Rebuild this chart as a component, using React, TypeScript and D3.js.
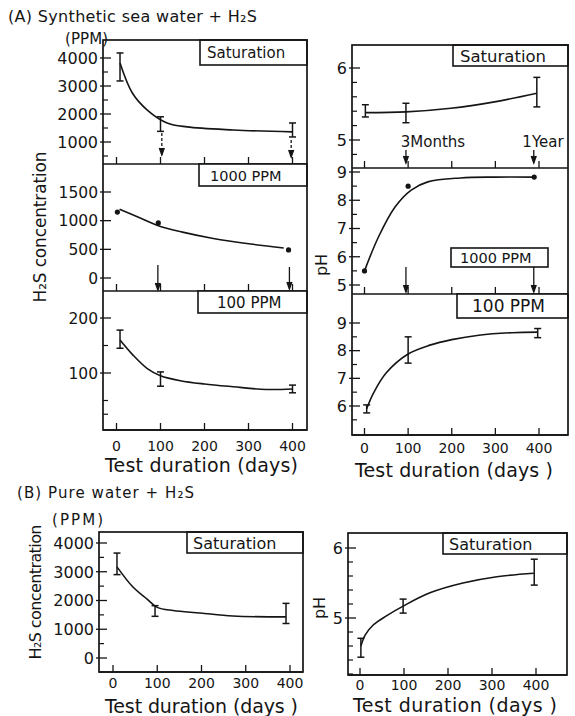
import React from 'react';
import * as d3 from 'd3';

const FONT = "'DejaVu Sans', Verdana, sans-serif";
const INK = '#151515';

type Pt = [number, number];
type Bar = [number, number, number]; // day, low, high

const dayTicks = [0, 100, 200, 300, 400];

// (A) synthetic sea water + H2S -- H2S concentration (ppm)
const aConcSatCurve: Pt[] = [[8, 3820], [36, 2750], [70, 2140], [115, 1680], [160, 1540], [266, 1430], [400, 1360]];
const aConcSatBars: Bar[] = [[8, 3180, 4180], [100, 1380, 1900], [400, 1180, 1680]];
const aConc1000Curve: Pt[] = [[7, 1200], [50, 1060], [95, 910], [150, 800], [220, 690], [305, 593], [380, 524]];
const aConc1000Dots: Pt[] = [[2, 1150], [95, 960], [391, 490]];
const aConc100Curve: Pt[] = [[8, 160], [37, 133], [70, 108], [100, 95], [145, 86], [200, 80], [265, 75], [340, 70], [400, 71]];
const aConc100Bars: Bar[] = [[8, 145, 178], [100, 76, 102], [400, 64, 78]];

// (A) pH
const aPhSatCurve: Pt[] = [[2, 5.38], [95, 5.39], [198, 5.44], [298, 5.53], [395, 5.65]];
const aPhSatBars: Bar[] = [[2, 5.32, 5.49], [95, 5.24, 5.51], [395, 5.46, 5.87]];
const aPh1000Curve: Pt[] = [[0, 5.5], [32, 6.7], [70, 7.76], [107, 8.36], [145, 8.65], [220, 8.79], [298, 8.82], [389, 8.82]];
const aPh1000Dots: Pt[] = [[0, 5.5], [100, 8.5], [389, 8.82]];
const aPh100Curve: Pt[] = [[5, 5.9], [20, 6.45], [50, 7.2], [100, 7.88], [150, 8.2], [200, 8.4], [262, 8.56], [338, 8.65], [397, 8.67]];
const aPh100Bars: Bar[] = [[5, 5.75, 6.04], [100, 7.55, 8.5], [397, 8.47, 8.8]];

// (B) pure water + H2S
const bConcCurve: Pt[] = [[9, 3170], [45, 2470], [77, 2050], [100, 1760], [136, 1650], [197, 1565], [271, 1460], [391, 1430]];
const bConcBars: Bar[] = [[9, 2900, 3650], [95, 1450, 1820], [391, 1200, 1900]];
const bPhCurve: Pt[] = [[2, 4.6], [12, 4.76], [30, 4.9], [60, 5.03], [98, 5.17], [159, 5.36], [234, 5.5], [311, 5.59], [395, 5.64]];
const bPhBars: Bar[] = [[2, 4.44, 4.71], [98, 5.07, 5.27], [396, 5.47, 5.84]];

type Box = { x: number; y: number; w: number; h: number; label: string; size: number; tx: number };
type Arrow = { day: number; tip: number; len: number; dashed?: boolean };

interface SubProps {
  x0: number; x1: number; y1: number;
  xs: d3.ScaleLinear<number, number>;
  yDom: [number, number]; yRng: [number, number];
  major: number[]; minor: number[]; tickSize: number;
  curve: Pt[]; bars?: Bar[]; dots?: Pt[];
  arrows?: Arrow[]; box: Box;
}

function Sub(p: SubProps) {
  const ys = d3.scaleLinear().domain(p.yDom).range(p.yRng);
  const line = d3.line<Pt>().x(d => p.xs(d[0])).y(d => ys(d[1])).curve(d3.curveCatmullRom.alpha(0.5));
  return (
    <g stroke={INK} fill="none">
      <line x1={p.x0} x2={p.x1} y1={p.y1} y2={p.y1} strokeWidth={1.7} />
      {dayTicks.map(d => (
        <line key={d} x1={p.xs(d)} x2={p.xs(d)} y1={p.y1} y2={p.y1 - 7} strokeWidth={1.3} />
      ))}
      {p.major.map(v => (
        <g key={v}>
          <line x1={p.x0 - 3} x2={p.x0 + 8} y1={ys(v)} y2={ys(v)} strokeWidth={1.3} />
          <text x={p.x0 - 5} y={ys(v)} dy="0.36em" textAnchor="end" fontSize={p.tickSize}
            fill={INK} stroke="none">{v}</text>
        </g>
      ))}
      {p.minor.map(v => (
        <line key={v} x1={p.x0} x2={p.x0 + 5} y1={ys(v)} y2={ys(v)} strokeWidth={1.2} />
      ))}
      <path d={line(p.curve) || ''} strokeWidth={1.6} />
      {(p.bars || []).map((b, i) => (
        <g key={i} strokeWidth={1.5}>
          <line x1={p.xs(b[0])} x2={p.xs(b[0])} y1={ys(b[1])} y2={ys(b[2])} />
          <line x1={p.xs(b[0]) - 3.5} x2={p.xs(b[0]) + 3.5} y1={ys(b[1])} y2={ys(b[1])} />
          <line x1={p.xs(b[0]) - 3.5} x2={p.xs(b[0]) + 3.5} y1={ys(b[2])} y2={ys(b[2])} />
        </g>
      ))}
      {(p.dots || []).map((d, i) => (
        <circle key={i} cx={p.xs(d[0])} cy={ys(d[1])} r={2.6} fill={INK} stroke="none" />
      ))}
      {(p.arrows || []).map((a, i) => {
        const x = p.xs(a.day);
        return (
          <g key={i} strokeWidth={1.3}>
            <line x1={x} x2={x} y1={a.tip - a.len} y2={a.tip} strokeDasharray={a.dashed ? '3 2' : undefined} />
            <path d={`M${x - 2.5},${a.tip - 7}L${x},${a.tip}L${x + 2.5},${a.tip - 7}`} fill={INK} />
          </g>
        );
      })}
      <rect x={p.box.x} y={p.box.y} width={p.box.w} height={p.box.h} fill="white" strokeWidth={1.6} />
      <text x={p.box.x + p.box.tx} y={p.box.y + p.box.h / 2} dy="0.38em" fontSize={p.box.size}
        fill={INK} stroke="none">{p.box.label}</text>
    </g>
  );
}

function XLabels({ xs, y, size }: { xs: d3.ScaleLinear<number, number>; y: number; size: number }) {
  return (
    <g fontSize={size} fill={INK} textAnchor="middle">
      {dayTicks.map(d => <text key={d} x={xs(d)} y={y}>{d}</text>)}
    </g>
  );
}

export default function App() {
  // scales for day axes
  const xAL = d3.scaleLinear().domain([0, 400]).range([116.5, 292.5]);
  const xAR = d3.scaleLinear().domain([0, 400]).range([364.5, 539]);
  const xBL = d3.scaleLinear().domain([0, 400]).range([113, 290]);
  const xBR = d3.scaleLinear().domain([0, 400]).range([360, 536]);

  return (
    <svg width={575} height={716} viewBox="0 0 575 716"
      style={{ display: 'block', position: 'absolute', left: 0, top: 0, background: 'white' }}
      fontFamily={FONT}>
      <rect x={0} y={0} width={575} height={716} fill="white" />

      {/* ---- (A) ---- */}
      <text x={8} y={22} fontSize={16} textLength={249} lengthAdjust="spacing" fill={INK}>(A) Synthetic sea water + H₂S</text>
      <text x={65} y={44} fontSize={15} textLength={43} fill={INK}>(PPM)</text>
      <text transform="translate(46,227) rotate(-90)" textAnchor="middle" fontSize={17} textLength={151}
        lengthAdjust="spacing" fill={INK}>H₂S concentration</text>

      <Sub x0={103} x1={307} y1={164} xs={xAL} yDom={[1000, 4000]} yRng={[142, 58]}
        major={[1000, 2000, 3000, 4000]} minor={[500, 1500, 2500, 3500]} tickSize={16}
        curve={aConcSatCurve} bars={aConcSatBars}
        arrows={[{ day: 103, tip: 155, len: 22, dashed: true }, { day: 397, tip: 157, len: 17, dashed: true }]}
        box={{ x: 200, y: 40, w: 107, h: 25, label: 'Saturation', size: 15, tx: 7 }} />
      <Sub x0={103} x1={307} y1={291} xs={xAL} yDom={[0, 1500]} yRng={[278, 192]}
        major={[0, 500, 1000, 1500]} minor={[]} tickSize={15.5}
        curve={aConc1000Curve} dots={aConc1000Dots}
        arrows={[{ day: 94, tip: 290, len: 25 }, { day: 393, tip: 289, len: 22 }]}
        box={{ x: 199, y: 164, w: 108, h: 22, label: '1000 PPM', size: 14.5, tx: 11 }} />
      <Sub x0={103} x1={307} y1={430} xs={xAL} yDom={[100, 200]} yRng={[373, 318]}
        major={[100, 200]} minor={[25, 50, 150]} tickSize={15.5}
        curve={aConc100Curve} bars={aConc100Bars}
        box={{ x: 198, y: 291, w: 109, h: 22, label: '100 PPM', size: 15, tx: 19 }} />
      <rect x={103} y={40} width={204} height={390} fill="none" stroke={INK} strokeWidth={1.7} />
      <XLabels xs={xAL} y={451} size={14} />
      <text x={105} y={472} fontSize={19} textLength={193} fill={INK}>Test duration (days)</text>

      <text transform="translate(327,265) rotate(-90)" textAnchor="middle" fontSize={16} fill={INK}>pH</text>
      <Sub x0={352} x1={568} y1={168} xs={xAR} yDom={[5, 6]} yRng={[140, 68]}
        major={[5, 6]} minor={[4.8, 5.2, 5.4, 5.6, 5.8]} tickSize={16}
        curve={aPhSatCurve} bars={aPhSatBars}
        arrows={[{ day: 95, tip: 163, len: 13 }, { day: 388, tip: 163, len: 13 }]}
        box={{ x: 453, y: 45, w: 115, h: 21, label: 'Saturation', size: 16.5, tx: 7 }} />
      <Sub x0={352} x1={568} y1={294} xs={xAR} yDom={[5, 9]} yRng={[285, 172]}
        major={[5, 6, 7, 8, 9]} minor={[5.5, 6.5, 7.5, 8.5]} tickSize={16}
        curve={aPh1000Curve} dots={aPh1000Dots}
        arrows={[{ day: 95, tip: 292, len: 25 }, { day: 388, tip: 292, len: 25 }]}
        box={{ x: 451, y: 248, w: 97, h: 19, label: '1000 PPM', size: 14.5, tx: 9 }} />
      <Sub x0={352} x1={568} y1={435} xs={xAR} yDom={[6, 9]} yRng={[406, 323]}
        major={[6, 7, 8, 9]} minor={[5.5, 6.5, 7.5, 8.5]} tickSize={16}
        curve={aPh100Curve} bars={aPh100Bars}
        box={{ x: 457, y: 294, w: 111, h: 24, label: '100 PPM', size: 17, tx: 15 }} />
      <rect x={352} y={45} width={216} height={390} fill="none" stroke={INK} strokeWidth={1.7} />
      <text x={433} y={147} fontSize={15} textAnchor="middle" fill={INK}>3Months</text>
      <text x={543} y={147} fontSize={15} textAnchor="middle" fill={INK}>1Year</text>
      <XLabels xs={xAR} y={453} size={14} />
      <text x={355} y={477} fontSize={19} textLength={198} fill={INK}>Test duration (days )</text>

      {/* ---- (B) ---- */}
      <text x={17} y={498} fontSize={15} textLength={177} lengthAdjust="spacing" fill={INK}>(B) Pure water + H₂S</text>
      <text x={52} y={525} fontSize={15} textLength={51} fill={INK}>(PPM)</text>
      <text transform="translate(41,592) rotate(-90)" textAnchor="middle" fontSize={16} textLength={135}
        lengthAdjust="spacing" fill={INK}>H₂S concentration</text>
      <Sub x0={99} x1={303} y1={672} xs={xBL} yDom={[0, 4000]} yRng={[658, 543]}
        major={[0, 1000, 2000, 3000, 4000]} minor={[500, 1500, 2500, 3500]} tickSize={16}
        curve={bConcCurve} bars={bConcBars}
        box={{ x: 187, y: 532, w: 116, h: 21, label: 'Saturation', size: 16, tx: 6 }} />
      <rect x={99} y={532} width={204} height={140} fill="none" stroke={INK} strokeWidth={1.7} />
      <XLabels xs={xBL} y={688} size={14} />
      <text x={105} y={713} fontSize={19} textLength={193} fill={INK}>Test duration (days )</text>

      <text transform="translate(325,608) rotate(-90)" textAnchor="middle" fontSize={16} fill={INK}>pH</text>
      <Sub x0={348} x1={567} y1={675} xs={xBR} yDom={[5, 6]} yRng={[618, 548]}
        major={[5, 6]} minor={[4.2, 4.4, 4.6, 4.8, 5.2, 5.4, 5.6, 5.8]} tickSize={16}
        curve={bPhCurve} bars={bPhBars}
        box={{ x: 443, y: 533, w: 124, h: 21, label: 'Saturation', size: 16, tx: 6 }} />
      <rect x={348} y={533} width={219} height={142} fill="none" stroke={INK} strokeWidth={1.7} />
      <XLabels xs={xBR} y={690} size={14} />
      <text x={353} y={712} fontSize={19} textLength={204} fill={INK}>Test duration (days )</text>
    </svg>
  );
}
